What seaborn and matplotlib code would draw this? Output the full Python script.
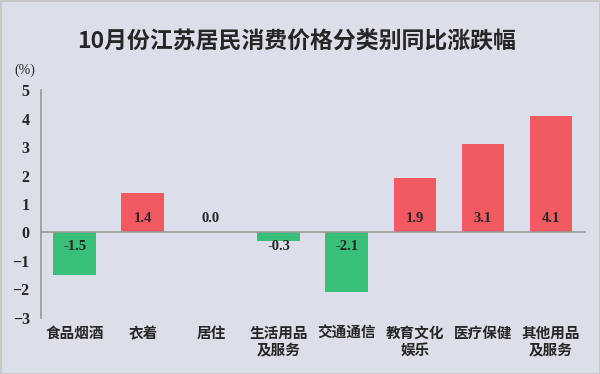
import matplotlib
matplotlib.use("Agg")
import matplotlib.pyplot as plt
import seaborn as sns
import pandas as pd

categories = ["食品烟酒", "衣着", "居住", "生活用品\n及服务", "交通通信",
              "教育文化\n娱乐", "医疗保健", "其他用品\n及服务"]
values = [-1.5, 1.4, 0.0, -0.3, -2.1, 1.9, 3.1, 4.1]
yticks = [-3, -2, -1, 0, 1, 2, 3, 4, 5]

bg = "#dcdfe9"
red = "#f25a62"
green = "#38bf78"
grey = "#9a9a9a"

sns.set_theme(style="white")
plt.rcParams["font.family"] = ["Noto Sans CJK SC", "DejaVu Sans"]

df = pd.DataFrame({"cat": categories, "val": values})
palette = {c: (red if v >= 0 else green) for c, v in zip(categories, values)}

fig = plt.figure(figsize=(6, 3.74), dpi=100, facecolor=bg,
                 edgecolor="#c8c8c8", linewidth=2)
ax = fig.add_axes([0.068, 0.150, 0.907, 0.609])
ax.set_facecolor(bg)

sns.barplot(data=df, x="cat", y="val", hue="cat", palette=palette,
            width=0.63, legend=False, saturation=1, edgecolor="none", ax=ax)

ax.set_xlim(-0.5, len(categories) - 0.5)
ax.set_ylim(-3, 5)
ax.set_yticks(yticks)
ax.set_yticklabels([f"{t}".replace("-", "\u2212") for t in yticks],
                   fontfamily="Liberation Serif", fontweight="bold", fontsize=11.5)
ax.tick_params(axis="y", direction="in", length=4, color=grey, width=1, pad=8)
ax.set_xlabel("")
ax.set_ylabel("")

for s in ["top", "right"]:
    ax.spines[s].set_visible(False)
ax.spines["left"].set_color(grey)
ax.spines["left"].set_linewidth(1.2)
ax.spines["bottom"].set_position(("data", 0))
ax.spines["bottom"].set_color(grey)
ax.spines["bottom"].set_linewidth(1.2)

# boundary ticks on the zero line, pointing up
ax.set_xticks([i + 0.5 for i in range(len(categories))])
ax.set_xticklabels([])
ax.tick_params(axis="x", direction="in", length=5, color=grey, width=1.2)

for i, (c, v) in enumerate(zip(categories, values)):
    y = 0.5 if v >= 0 else -0.5
    ax.text(i, y, f"{v:.1f}", ha="center", va="center", fontsize=10.5,
            fontweight="bold", fontfamily="Liberation Serif")
    ax.text(i, -3.25, c, ha="center", va="top", fontsize=10.5,
            fontweight="bold", linespacing=1.1)

fig.text(0.494, 0.888, "10月份江苏居民消费价格分类别同比涨跌幅", ha="center",
         va="center", fontsize=16.5, fontweight="bold",
         family=["Noto Sans CJK SC", "DejaVu Sans"])
fig.text(0.042, 0.812, "(%)", ha="center", va="center", fontsize=10,
         fontfamily="Liberation Serif")

fig.savefig("out.png", dpi=100, facecolor=bg, edgecolor="#c8c8c8")
